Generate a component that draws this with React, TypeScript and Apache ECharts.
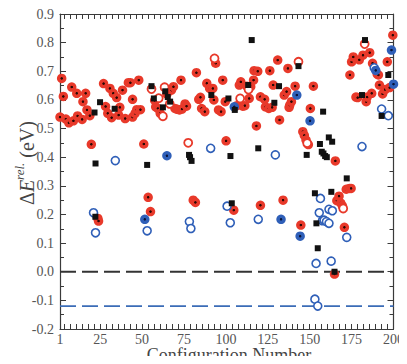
import React, { useEffect, useRef } from "react";
import * as echarts from "echarts";

// [configuration number, relative energy in eV]
const redFilled: number[][] = [
  [1, 0.54], [2, 0.675], [3, 0.612], [4.5, 0.533], [6.3, 0.52], [8, 0.645], [9, 0.527],
  [11, 0.623], [11.5, 0.544], [14.2, 0.532], [14.7, 0.594], [16.3, 0.623], [17.1, 0.565],
  [18.8, 0.545], [19.7, 0.445], [23.6, 0.186], [24, 0.177], [27, 0.657], [28.2, 0.577],
  [29.5, 0.553], [30.8, 0.64], [31.8, 0.538], [32.8, 0.623], [34.8, 0.608], [36, 0.547],
  [36.7, 0.574], [38.3, 0.634], [39.9, 0.535], [41.8, 0.66], [43, 0.66], [44.3, 0.602],
  [44.3, 0.54], [45.8, 0.553], [46.8, 0.566], [48, 0.669], [49, 0.566], [51, 0.446],
  [53.6, 0.26], [55, 0.21], [57.5, 0.598], [58.1, 0.576], [59.4, 0.57], [60.8, 0.553],
  [64.8, 0.62], [67.5, 0.634], [68.7, 0.646], [69.6, 0.57], [71, 0.567], [72.3, 0.565],
  [73.2, 0.669], [73.8, 0.568], [75.6, 0.586], [76.5, 0.578], [80.5, 0.25], [81.8, 0.242],
  [82.4, 0.695], [83.8, 0.602], [84.8, 0.609], [85.5, 0.57], [87.4, 0.559], [88.6, 0.658],
  [90.3, 0.64], [92.2, 0.64], [92.8, 0.6], [93.9, 0.728], [95.6, 0.565], [97.1, 0.559],
  [98.1, 0.669], [99.6, 0.594], [100.1, 0.457], [104.7, 0.215], [106.6, 0.58], [108, 0.652],
  [108.9, 0.663], [110.1, 0.578], [111.3, 0.58], [112.5, 0.648], [113.9, 0.605],
  [114.8, 0.646], [116.5, 0.669], [116.8, 0.702], [118.2, 0.509], [119, 0.7], [120.6, 0.611],
  [120.6, 0.232], [123.1, 0.602], [123.6, 0.576], [125.6, 0.57], [126.2, 0.702],
  [127.6, 0.574], [128.2, 0.652], [130.9, 0.739], [132, 0.53], [134.1, 0.25], [134.8, 0.617],
  [136.2, 0.629], [137, 0.71], [137.7, 0.574], [138.1, 0.582], [139.1, 0.594], [141.3, 0.648],
  [144.7, 0.163], [145.9, 0.489], [146.8, 0.476], [147.8, 0.46], [149.2, 0.444], [150.4, 0.57],
  [152.2, 0.648], [164.8, -0.008], [165.3, 0.387], [166.2, 0.248], [167.5, 0.264],
  [168.5, 0.24], [169.5, 0.23], [170.7, 0.155], [171.8, 0.288], [173.8, 0.291],
  [174.7, 0.291], [174, 0.687], [175, 0.733], [176, 0.75], [177.6, 0.61], [178.6, 0.608],
  [179.6, 0.74], [181.8, 0.756], [183.7, 0.594], [184.3, 0.61], [185.8, 0.765], [187, 0.623],
  [187.5, 0.728], [190.3, 0.69], [191, 0.687], [191.6, 0.652], [193.5, 0.621], [195, 0.636],
  [196.3, 0.733], [197.7, 0.643], [199.6, 0.826],
];

const redOpen: number[][] = [
  [55.6, 0.638], [59.9, 0.606], [62.4, 0.543], [63.4, 0.644], [66.5, 0.586], [77.5, 0.45],
  [93.2, 0.745], [108.5, 0.605], [113.5, 0.636], [143.3, 0.733], [148.5, 0.449],
  [170, 0.221], [182.8, 0.795],
];

const blackSquares: number[][] = [
  [21.6, 0.556], [22.2, 0.378], [22.1, 0.192], [24.9, 0.592], [33.6, 0.569], [53, 0.373],
  [55.6, 0.648], [57, 0.605], [62.4, 0.574], [63.8, 0.63], [65.3, 0.61], [66.7, 0.594],
  [78, 0.408], [78.6, 0.4], [79.5, 0.387], [91.3, 0.617], [101.5, 0.605], [102.7, 0.404],
  [103.5, 0.239], [105.3, 0.565], [113.3, 0.652], [115.4, 0.809], [119.3, 0.431],
  [128.9, 0.59], [131.7, 0.648], [143.3, 0.718], [148.2, 0.408], [153.1, 0.274],
  [154, 0.169], [154.8, 0.082], [156.1, 0.446], [157.2, 0.419], [158, 0.559], [158.2, 0.413],
  [159.2, 0.404], [160.2, 0.4], [161.4, 0.469], [162.9, 0.279], [163.4, 0.454], [164.8, 0],
  [172.1, 0.326], [181.2, 0.617], [183, 0.809], [192.9, 0.544], [196.9, 0.687],
];

const blueOpen: number[][] = [
  [21, 0.206], [22.2, 0.136], [34, 0.388], [53, 0.143], [78.2, 0.175], [79.1, 0.151],
  [90.9, 0.431], [100.7, 0.229], [102.6, 0.171], [119.3, 0.183], [129.5, 0.408],
  [153.1, -0.096], [153.8, 0.029], [154.8, -0.12], [155.7, 0.206], [156.4, 0.256],
  [157.6, 0.178], [158.6, 0.18], [160, 0.175], [161.5, 0.169], [161.5, 0.218],
  [163.5, 0.213], [162.8, 0.037], [172.1, 0.12], [181.2, 0.437], [188.5, 0.712],
  [192.9, 0.568], [196.9, 0.545],
];

const blueFilled: number[][] = [
  [51.6, 0.183], [64.8, 0.405], [105, 0.576], [132.9, 0.183], [142.3, 0.617],
  [144.3, 0.124], [150.2, 0.527], [189.4, 0.703], [198.8, 0.774], [200, 0.655],
];

// horizontal reference levels (eV)
const zeroLevel = 0;
const blueLevel = -0.12;

const xRange = [1, 200];
const xLabelValues = [1, 25, 50, 75, 100, 125, 150, 175, 200];
const xTickStep = 25 / 7;

const SERIF = "'Liberation Serif', 'DejaVu Serif', serif";

export default function App() {
  const ref = useRef<HTMLDivElement>(null);

  useEffect(() => {
    if (!ref.current) return;
    const chart = echarts.init(ref.current, undefined, { renderer: "svg" });

    const xTicks: number[] = [];
    for (let k = 1; k * xTickStep <= xRange[1] + 1e-6; k++) xTicks.push(+(k * xTickStep).toFixed(4));

    // filled marker with a small dark core
    const dot = (outer: string, inner: string) =>
      new echarts.graphic.RadialGradient(0.5, 0.5, 0.5, [
        { offset: 0, color: inner },
        { offset: 0.18, color: inner },
        { offset: 0.34, color: outer },
        { offset: 1, color: outer },
      ]);

    const axisLine = { show: true, onZero: false, lineStyle: { color: "#3a3a3a", width: 1.2 } };
    const xAxisBase = {
      type: "value" as const,
      min: xRange[0],
      max: xRange[1],
      splitLine: { show: false },
      axisLine,
      axisTick: {
        show: true,
        inside: true,
        length: 5,
        customValues: xTicks,
        lineStyle: { color: "#3a3a3a", width: 1 },
      },
    };
    const yAxisBase = {
      type: "value" as const,
      min: -0.2,
      max: 0.9,
      interval: 0.1,
      splitLine: { show: false },
      axisLine,
      axisTick: { show: true, inside: true, length: 6, lineStyle: { color: "#3a3a3a", width: 1 } },
      minorTick: { show: true, splitNumber: 2, length: 4, lineStyle: { color: "#3a3a3a", width: 1 } },
      minorSplitLine: { show: false },
    };

    chart.setOption({
      animation: false,
      backgroundColor: "#ffffff",
      grid: { left: 60, right: 9, top: 14, bottom: 35, containLabel: false },
      xAxis: [
        {
          ...xAxisBase,
          position: "bottom",
          axisLabel: {
            show: true,
            customValues: xLabelValues,
            margin: 3,
            lineHeight: 14,
            color: "#555",
            fontFamily: SERIF,
            fontSize: 14,
            formatter: (v: number) => String(Math.round(v)),
          },
        },
        { ...xAxisBase, position: "top", axisLabel: { show: false } },
      ],
      yAxis: [
        {
          ...yAxisBase,
          position: "left",
          axisLabel: {
            show: true,
            margin: 6,
            color: "#555",
            fontFamily: SERIF,
            fontSize: 14,
            formatter: (v: number) => (Math.abs(v) < 1e-9 ? "0.0" : v.toFixed(1)),
          },
        },
        { ...yAxisBase, position: "right", axisLabel: { show: false } },
      ],
      graphic: [
        {
          type: "text",
          x: 229,
          y: 355,
          style: {
            text: "Configuration Number",
            font: `18px ${SERIF}`,
            lineHeight: 16,
            fill: "#444",
            align: "center",
            verticalAlign: "middle",
          },
        },
        {
          type: "text",
          x: 25,
          y: 163,
          rotation: Math.PI / 2,
          style: {
            text: "{d|Δ}{e|E}{s|rel.}{n| (eV)}",
            fill: "#444",
            align: "center",
            verticalAlign: "middle",
            rich: {
              d: { font: `20px ${SERIF}`, fill: "#444", lineHeight: 24, verticalAlign: "bottom" },
              e: { font: `italic 20px ${SERIF}`, fill: "#444", lineHeight: 24, verticalAlign: "bottom" },
              s: { font: `italic 13px ${SERIF}`, fill: "#444", lineHeight: 24, verticalAlign: "top" },
              n: { font: `20px ${SERIF}`, fill: "#444", lineHeight: 24, verticalAlign: "bottom" },
            },
          },
        },
      ],
      series: [
        {
          type: "line",
          data: [[xRange[0], zeroLevel], [xRange[1], zeroLevel]],
          symbol: "none",
          silent: true,
          lineStyle: { color: "#333", width: 2, type: [16, 6] },
          z: 1,
        },
        {
          type: "line",
          data: [[xRange[0], blueLevel], [xRange[1], blueLevel]],
          symbol: "none",
          silent: true,
          lineStyle: { color: "#3b6cb7", width: 1.6, type: [16, 6] },
          z: 1,
        },
        {
          type: "scatter",
          data: redFilled,
          symbol: "circle",
          symbolSize: 9.5,
          itemStyle: { color: dot("#e8392a", "#2a0804"), opacity: 1 },
          z: 3,
        },
        {
          type: "scatter",
          data: redOpen,
          symbol: "circle",
          symbolSize: 8,
          itemStyle: { color: "#ffffff", borderColor: "#e8392a", borderWidth: 1.8, opacity: 1 },
          z: 4,
        },
        {
          type: "scatter",
          data: blueOpen,
          symbol: "circle",
          symbolSize: 8,
          itemStyle: { color: "#ffffff", borderColor: "#2f5fb8", borderWidth: 1.6, opacity: 1 },
          z: 4,
        },
        {
          type: "scatter",
          data: blueFilled,
          symbol: "circle",
          symbolSize: 9.5,
          itemStyle: { color: dot("#2f5fb8", "#08143a"), opacity: 1 },
          z: 5,
        },
        {
          type: "scatter",
          data: blackSquares,
          symbol: "rect",
          symbolSize: 6,
          itemStyle: { color: "#111111", opacity: 1 },
          z: 6,
        },
      ],
    });

    return () => chart.dispose();
  }, []);

  return <div ref={ref} style={{ width: 407, height: 364, margin: -8 }} />;
}
